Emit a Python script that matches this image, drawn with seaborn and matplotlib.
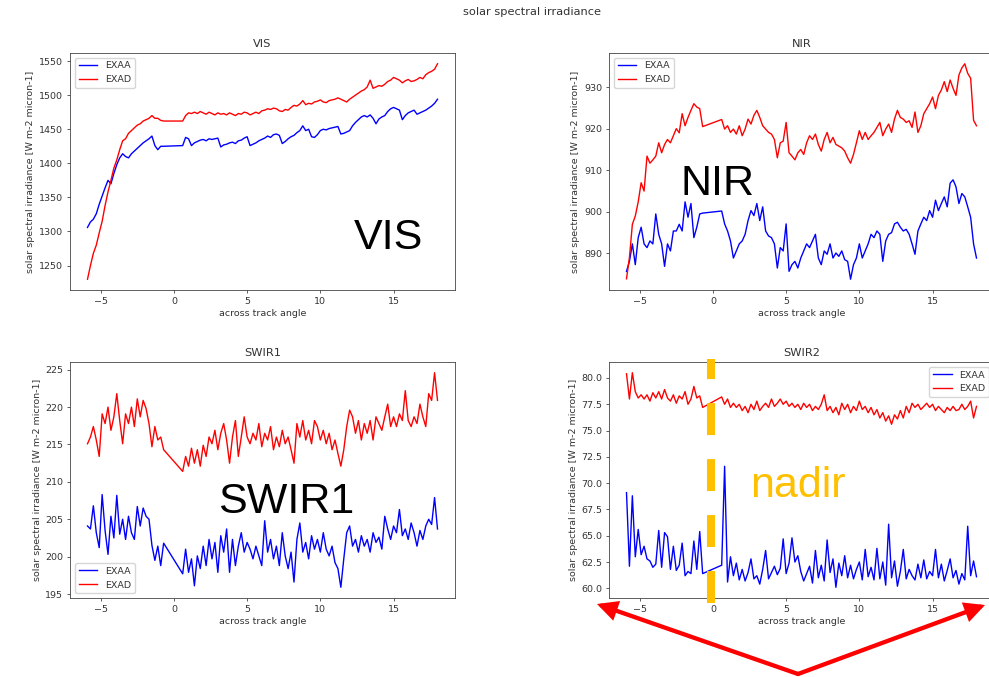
import matplotlib
matplotlib.use("Agg")
import matplotlib.pyplot as plt
import pandas as pd
import seaborn as sns
from matplotlib.lines import Line2D
from matplotlib.patches import FancyArrowPatch

# ---------------- data ----------------
ANGLES = [-5.9, -5.7, -5.5, -5.3, -5.1, -4.9, -4.7, -4.5, -4.3, -4.1,
          -3.9, -3.7, -3.5, -3.3, -3.1, -2.9, -2.7, -2.5, -2.3, -2.1,
          -1.9, -1.7, -1.5, -1.3, -1.1, -0.9, -0.7,
          0.6, 0.8, 1.0, 1.2, 1.4, 1.6, 1.8, 2.0, 2.2, 2.4,
          2.6, 2.8, 3.0, 3.2, 3.4, 3.6, 3.8, 4.0, 4.2, 4.4,
          4.6, 4.8, 5.0, 5.2, 5.4, 5.6, 5.8, 6.0, 6.2, 6.4,
          6.6, 6.8, 7.0, 7.2, 7.4, 7.6, 7.8, 8.0, 8.2, 8.4,
          8.6, 8.8, 9.0, 9.2, 9.4, 9.6, 9.8, 10.0, 10.2, 10.4,
          10.6, 10.8, 11.0, 11.2, 11.4, 11.6, 11.8, 12.0, 12.2, 12.4,
          12.6, 12.8, 13.0, 13.2, 13.4, 13.6, 13.8, 14.0, 14.2, 14.4,
          14.6, 14.8, 15.0, 15.2, 15.4, 15.6, 15.8, 16.0, 16.2, 16.4,
          16.6, 16.8, 17.0, 17.2, 17.4, 17.6, 17.8, 18.0]

VIS_EXAA = [1306, 1314, 1318, 1326, 1340, 1352, 1364, 1375, 1370, 1385,
            1398, 1408, 1414, 1410, 1408, 1414, 1418, 1422, 1426, 1430,
            1433, 1436, 1440, 1426, 1420, 1425, 1425,
            1426, 1438, 1436, 1426, 1430, 1432, 1434, 1435, 1433, 1436,
            1435, 1436, 1437, 1424, 1427, 1428, 1430, 1431, 1429, 1433,
            1434, 1437, 1439, 1426, 1428, 1430, 1433, 1435, 1437, 1440,
            1438, 1442, 1443, 1441, 1429, 1432, 1436, 1439, 1441, 1445,
            1448, 1455, 1448, 1450, 1439, 1438, 1442, 1448, 1450, 1449,
            1451, 1452, 1453, 1454, 1443, 1444, 1446, 1448, 1455, 1460,
            1464, 1468, 1470, 1468, 1471, 1466, 1458, 1465, 1468, 1470,
            1476, 1480, 1482, 1480, 1478, 1464, 1470, 1474, 1476, 1478,
            1472, 1474, 1476, 1478, 1481, 1484, 1488, 1494]
VIS_EXAD = [1230, 1250, 1268, 1280, 1298, 1315, 1338, 1358, 1375, 1393,
            1405, 1420, 1433, 1436, 1444, 1448, 1452, 1456, 1458, 1462,
            1464, 1466, 1470, 1466, 1466, 1463, 1462,
            1462, 1470, 1474, 1473, 1475, 1473, 1476, 1474, 1472, 1475,
            1473, 1471, 1474, 1472, 1473, 1471, 1474, 1472, 1470, 1473,
            1472, 1475, 1474, 1471, 1473, 1475, 1473, 1477, 1478, 1480,
            1479, 1481, 1480, 1477, 1476, 1479, 1478, 1482, 1485, 1484,
            1487, 1492, 1486, 1488, 1487, 1490, 1491, 1493, 1490, 1489,
            1492, 1493, 1494, 1496, 1494, 1492, 1490, 1494, 1497, 1500,
            1503, 1506, 1508, 1512, 1522, 1510, 1512, 1514, 1513, 1516,
            1520, 1522, 1526, 1524, 1522, 1518, 1521, 1523, 1520, 1521,
            1523, 1526, 1524, 1530, 1533, 1535, 1538, 1546]

NIR_EXAA = [885.7, 888.1, 892.3, 887.3, 893.8, 896.3, 892.3, 891.4, 893.0, 892.3,
            899.5, 894.6, 892.3, 886.9, 892.3, 890.6, 895.4, 895.4, 897.0, 895.4,
            902.4, 898.7, 902.0, 893.8, 896.3, 899.5, 899.7,
            900.2, 897.1, 895.4, 893.0, 888.9, 890.6, 892.3, 893.0, 894.6, 897.9,
            900.3, 899.1, 902.0, 897.9, 901.2, 895.4, 894.2, 893.8, 892.3, 886.5,
            891.4, 890.6, 897.1, 885.7, 887.3, 888.1, 886.5, 888.9, 890.6, 892.3,
            891.4, 893.0, 894.6, 888.9, 887.3, 890.6, 889.8, 892.3, 888.9, 890.1,
            889.3, 890.6, 888.5, 888.1, 883.8, 887.3, 888.9, 892.3, 888.9, 890.6,
            892.3, 894.6, 893.8, 895.4, 894.6, 888.1, 893.0, 894.6, 895.0, 897.1,
            897.5, 896.3, 895.4, 895.8, 894.6, 892.3, 889.8, 895.4, 897.1, 898.7,
            897.9, 900.3, 898.7, 902.8, 900.3, 902.0, 903.6, 901.2, 906.9, 907.7,
            906.0, 902.0, 904.4, 903.6, 901.2, 898.7, 892.3, 888.9]
NIR_EXAD = [883.9, 889.0, 897.0, 899.0, 902.4, 907.0, 905.0, 913.4, 911.7, 912.5,
            913.4, 916.6, 914.2, 916.2, 917.4, 916.6, 918.3, 920.0, 919.0, 923.6,
            920.7, 922.7, 924.4, 926.0, 925.2, 924.8, 920.5,
            922.2, 919.9, 920.7, 919.1, 919.9, 918.7, 920.7, 918.3, 919.9, 922.3,
            921.1, 923.2, 924.4, 922.7, 920.7, 919.9, 919.1, 918.7, 917.4, 913.0,
            916.6, 917.0, 921.5, 914.2, 913.4, 912.5, 914.2, 915.0, 913.8, 916.6,
            918.3, 917.4, 918.7, 916.2, 914.6, 917.4, 919.1, 916.6, 917.9, 916.2,
            915.8, 915.4, 914.6, 913.0, 911.7, 913.8, 916.6, 919.5, 917.4, 919.1,
            917.4, 918.3, 919.1, 920.3, 921.5, 918.3, 919.9, 921.1, 919.1, 922.3,
            924.4, 922.7, 922.3, 921.5, 921.9, 920.3, 924.0, 919.1, 920.7, 923.6,
            924.8, 926.0, 927.6, 924.8, 928.0, 929.3, 931.3, 928.9, 931.7, 929.7,
            928.0, 932.9, 934.6, 935.6, 933.3, 932.1, 922.0, 920.7]

SWIR1_EXAA = [204.1, 203.7, 206.8, 203.2, 201.2, 208.3, 203.5, 200.3, 205.4, 202.5,
              208.2, 203.0, 205.0, 202.3, 205.4, 203.2, 202.3, 206.7, 204.1, 206.5,
              205.4, 205.0, 201.5, 199.5, 201.4, 198.8, 201.8,
              197.7, 201.0, 197.9, 199.7, 196.1, 200.1, 198.4, 201.4, 198.8, 202.3,
              199.7, 201.9, 197.9, 202.8, 200.6, 203.7, 197.9, 202.3, 198.8, 201.4,
              203.2, 200.6, 201.9, 201.0, 199.7, 201.4, 200.1, 198.8, 204.8, 200.6,
              202.3, 199.7, 201.4, 198.8, 203.2, 200.1, 198.4, 200.6, 196.6, 202.3,
              204.5, 200.6, 201.9, 199.7, 202.8, 201.0, 202.3, 200.6, 203.2, 201.0,
              200.1, 201.4, 199.2, 198.4, 195.9, 199.7, 203.2, 204.1, 201.4, 202.3,
              200.6, 202.8, 201.4, 202.3, 200.6, 203.2, 201.9, 202.6, 201.0, 205.4,
              203.7, 202.3, 204.1, 203.2, 206.3, 202.8, 203.7, 202.3, 204.5, 203.2,
              201.4, 203.5, 202.3, 204.1, 205.0, 204.3, 207.9, 203.7]
SWIR1_EXAD = [215.1, 216.0, 217.4, 215.6, 213.4, 219.1, 217.8, 220.0, 216.9, 218.7,
              221.8, 218.2, 215.1, 219.1, 217.8, 220.0, 217.4, 221.1, 218.7, 220.9,
              219.8, 217.8, 214.7, 217.4, 215.6, 216.0, 214.3,
              211.4, 213.4, 212.1, 214.5, 212.5, 214.3, 212.1, 214.9, 213.4, 216.0,
              215.1, 216.9, 214.3, 216.5, 217.8, 215.6, 212.5, 216.0, 218.2, 213.4,
              216.0, 218.7, 216.0, 215.1, 216.5, 215.6, 217.8, 214.7, 216.5, 215.6,
              217.4, 214.3, 216.0, 214.7, 216.9, 215.1, 216.0, 214.3, 212.5, 217.8,
              216.0, 218.2, 215.6, 216.9, 215.1, 218.2, 217.4, 215.6, 216.9, 215.1,
              216.5, 214.3, 215.6, 213.8, 212.1, 214.3, 217.4, 219.6, 218.7, 216.5,
              218.2, 215.6, 217.8, 216.5, 218.2, 215.6, 218.7, 217.8, 216.9, 218.7,
              220.4, 217.4, 218.7, 217.4, 219.1, 218.2, 222.2, 218.2, 217.4, 218.7,
              217.8, 220.4, 218.7, 217.4, 221.8, 220.9, 224.6, 220.9]

SWIR2_EXAA = [69.1, 62.1, 68.8, 63.0, 65.6, 63.2, 64.0, 62.8, 62.6, 62.0,
              62.3, 65.5, 62.0, 65.3, 64.9, 61.8, 64.0, 61.7, 62.2, 64.3,
              61.2, 61.6, 61.4, 64.5, 61.8, 65.4, 61.4,
              62.2, 71.6, 60.6, 63.0, 61.2, 62.4, 60.8, 61.8, 60.7, 61.5,
              62.8, 60.9, 61.2, 60.4, 61.8, 63.6, 60.9, 61.5, 62.1, 61.3,
              61.9, 64.7, 61.4, 62.4, 64.8, 62.5, 63.1, 61.6, 60.7, 61.4,
              62.1, 60.5, 63.6, 61.0, 62.2, 60.7, 64.6, 61.5, 62.8, 60.1,
              62.4, 61.2, 63.1, 61.0, 62.2, 60.9, 61.8, 62.5, 60.8, 63.7,
              61.1, 62.0, 60.8, 63.8, 60.9, 62.5, 60.3, 66.1, 61.0, 62.6,
              60.2, 61.6, 63.7, 60.9, 61.8, 61.2, 60.8, 62.3, 61.0, 62.7,
              60.9, 61.6, 61.2, 63.7, 61.0, 62.3, 60.7, 61.7, 62.8, 61.0,
              61.7, 60.4, 61.4, 60.8, 65.9, 61.2, 62.6, 61.1]
SWIR2_EXAD = [80.4, 78.0, 80.5, 78.7, 78.1, 78.4, 78.0, 78.4, 77.8, 78.6,
              78.1, 78.7, 78.0, 78.9, 78.1, 77.8, 78.4, 77.6, 78.3, 78.0,
              78.7, 77.5, 78.0, 79.2, 78.1, 78.3, 77.2,
              78.2, 77.5, 78.0, 77.2, 77.6, 77.2, 77.5, 76.9, 77.3, 76.7,
              77.5, 77.0, 77.8, 76.9, 77.3, 77.6, 77.2, 78.0, 77.3, 77.6,
              78.0, 77.5, 77.8, 77.3, 77.6, 77.2, 77.5, 77.0, 77.6, 77.2,
              77.5, 76.9, 77.3, 77.0, 77.5, 78.4, 76.9, 77.3, 76.7, 77.2,
              76.5, 77.6, 77.0, 77.5, 76.7, 77.3, 76.9, 77.8, 77.0, 77.3,
              76.7, 77.2, 76.5, 77.0, 76.2, 76.7, 75.9, 76.4, 75.6, 76.5,
              76.1, 76.9, 76.2, 77.3, 76.7, 77.6, 77.2, 77.5, 77.0, 77.3,
              77.6, 77.2, 77.5, 76.9, 77.3, 77.0, 76.7, 77.2, 76.9, 77.3,
              76.9, 77.0, 77.5, 77.0, 77.3, 77.8, 76.2, 77.3]

PANELS = ["VIS", "NIR", "SWIR1", "SWIR2"]
SERIES = ["EXAA", "EXAD"]
TITLE = "solar spectral irradiance"
XLABEL = "across track angle"
YLABEL = "solar spectral irradiance [W m-2 micron-1]"

# ---------------- style ----------------
plt.rcParams.update({
    "font.family": ["DejaVu Sans"],
    "font.size": 6.8,
    "axes.titlesize": 8.2,
    "figure.titlesize": 8.2,
    "axes.labelsize": 6.8,
    "xtick.labelsize": 6.8,
    "ytick.labelsize": 6.8,
    "legend.fontsize": 6.8,
    "axes.linewidth": 0.6,
    "xtick.major.width": 0.6,
    "ytick.major.width": 0.6,
    "xtick.major.size": 2.4,
    "ytick.major.size": 2.4,
    "xtick.major.pad": 2.4,
    "ytick.major.pad": 2.4,
    "axes.titlepad": 4.1,
    "axes.labelpad": 2.7,
    "axes.edgecolor": "#444444",
    "text.color": "#333333",
    "xtick.color": "#444444",
    "ytick.color": "#444444",
    "xtick.labelcolor": "#333333",
    "ytick.labelcolor": "#333333",
    "axes.labelcolor": "#333333",
    "lines.scale_dashes": False,
})

fig = plt.figure(figsize=(9.89, 6.77), dpi=100)

W, H = 989.0, 677.0
positions = {
    "VIS":   [70 / W, 1 - 290 / H, 385 / W, 237 / H],
    "NIR":   [609 / W, 1 - 290 / H, 385 / W, 237 / H],
    "SWIR1": [70 / W, 1 - 598 / H, 385 / W, 236 / H],
    "SWIR2": [609 / W, 1 - 598 / H, 385 / W, 236 / H],
}
data = {
    "VIS": (VIS_EXAA, VIS_EXAD, "upper left"),
    "NIR": (NIR_EXAA, NIR_EXAD, "upper left"),
    "SWIR1": (SWIR1_EXAA, SWIR1_EXAD, "lower left"),
    "SWIR2": (SWIR2_EXAA, SWIR2_EXAD, "upper right"),
}
palette = {"EXAA": "blue", "EXAD": "red"}

for name in PANELS:
    exaa, exad, loc = data[name]
    ax = fig.add_axes(positions[name])
    df = pd.DataFrame({
        "angle": ANGLES + ANGLES,
        "irradiance": list(exaa) + list(exad),
        "series": [SERIES[0]] * len(exaa) + [SERIES[1]] * len(exad),
    })
    sns.lineplot(data=df, x="angle", y="irradiance", hue="series",
                 hue_order=SERIES, palette=palette, estimator=None,
                 sort=False, linewidth=1.0, ax=ax)
    ax.set_title(name)
    ax.set_xlabel(XLABEL)
    ax.set_ylabel(YLABEL)
    ax.legend(loc=loc)

fig.suptitle(TITLE, x=532 / W, y=1 - 12 / H, va="center")

# ---------------- overlay annotations ----------------
big = dict(family=["Liberation Sans", "DejaVu Sans"], fontsize=31,
           ha="center", va="baseline")
fig.text(388 / W, 1 - 249 / H, "VIS", color="black", **big)
fig.text(717 / W, 1 - 195 / H, "NIR", color="black", **big)
fig.text(286 / W, 1 - 513 / H, "SWIR1", color="black", **big)
fig.text(798 / W, 1 - 497 / H, "nadir", color="#FFC000", **big)

fig.add_artist(Line2D([711 / W, 711 / W], [1 - 603 / H, 1 - 359 / H],
                      transform=fig.transFigure, color="#FFC000", lw=5.8,
                      linestyle=(0, (23, 17.3)), dash_capstyle="butt"))

apex = (798 / W, 1 - 674 / H)
for tip in [(597 / W, 1 - 604 / H), (985 / W, 1 - 605 / H)]:
    fig.add_artist(FancyArrowPatch(apex, tip, transform=fig.transFigure,
                                   arrowstyle="-|>,head_length=0.4,head_width=0.2",
                                   mutation_scale=25, lw=3.1, color="#FF0000",
                                   shrinkA=0, shrinkB=0, joinstyle="miter"))

fig.savefig("out.png", dpi=100)
